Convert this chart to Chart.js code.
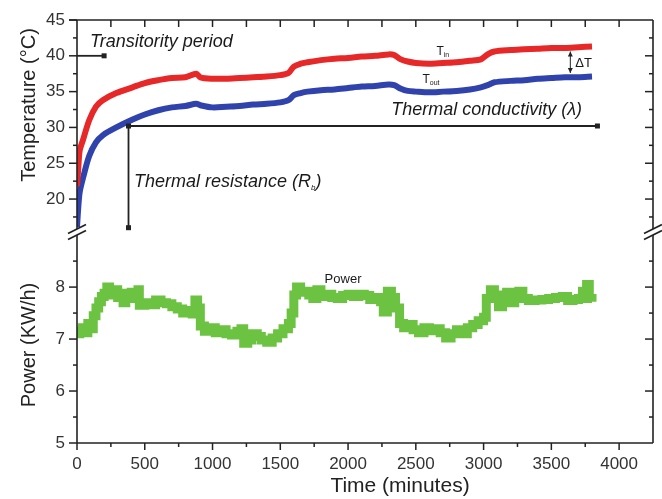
<!DOCTYPE html>
<html>
<head>
<meta charset="utf-8">
<script src="https://cdn.jsdelivr.net/npm/chart.js@4.4.1/dist/chart.umd.min.js"></script>
<style>
  html, body { margin: 0; padding: 0; background: #fff; }
  #wrap { width: 662px; height: 499px; }
</style>
</head>
<body>
<div id="wrap"><canvas id="chart" width="662" height="499"></canvas></div>
<script>
// temperature curves (minutes, °C)
const timeT = [0, 10, 20, 45, 90, 140, 190, 290, 410, 500, 600, 700, 800, 880, 910, 1000,
  1100, 1200, 1300, 1400, 1500, 1560, 1600, 1650, 1700, 1800, 1900, 2000, 2100, 2200,
  2300, 2340, 2390, 2440, 2500, 2600, 2700, 2800, 2900, 2980, 3030, 3080, 3200, 3300,
  3400, 3500, 3600, 3700, 3800];
const tempIn = [21.8, 24.5, 26.8, 28.3, 31.0, 32.9, 33.8, 34.8, 35.6, 36.2, 36.6, 36.9, 37.0, 37.5, 37.0, 36.8,
  36.8, 36.9, 37.0, 37.1, 37.3, 37.6, 38.5, 38.9, 39.1, 39.4, 39.6, 39.7, 39.9, 40.0,
  40.2, 40.1, 39.5, 39.2, 39.0, 38.9, 39.0, 39.1, 39.3, 39.5, 40.2, 40.6, 40.8, 40.9,
  41.0, 41.1, 41.1, 41.2, 41.3];
const tempOut = [16.1, 19.0, 21.0, 23.0, 26.0, 27.9, 28.9, 30.0, 31.1, 31.8, 32.4, 32.8, 33.0, 33.3, 33.1, 32.8,
  32.9, 33.0, 33.2, 33.3, 33.5, 33.8, 34.5, 34.8, 35.0, 35.2, 35.3, 35.5, 35.7, 35.8,
  36.0, 35.9, 35.4, 35.1, 35.0, 34.9, 35.0, 35.1, 35.3, 35.6, 35.9, 36.3, 36.5, 36.6,
  36.8, 36.9, 37.0, 37.0, 37.1];

// power (minutes, KW/h)
const timeP = [0, 20, 40, 60, 80, 100, 120, 140, 160, 180, 200, 220, 240, 260, 280, 300, 320, 340, 360, 380,
  400, 420, 450, 460, 500, 540, 580, 620, 660, 700, 740, 780, 820, 850, 870, 890, 910, 940, 980,
  1020, 1060, 1100, 1140, 1180, 1210, 1230, 1260, 1290, 1330, 1360, 1400, 1440, 1480, 1520, 1560,
  1580, 1600, 1620, 1650, 1680, 1710, 1740, 1770, 1800, 1840, 1880, 1920, 1960, 2000, 2040, 2080,
  2120, 2160, 2200, 2240, 2260, 2290, 2320, 2350, 2380, 2410, 2440, 2480, 2520, 2560, 2600, 2640,
  2680, 2720, 2760, 2800, 2840, 2880, 2920, 2960, 3000, 3020, 3050, 3080, 3110, 3140, 3170, 3200,
  3230, 3260, 3290, 3330, 3380, 3430, 3480, 3530, 3580, 3620, 3660, 3700, 3730, 3760, 3780, 3800];
const power = [7.10, 7.15, 7.22, 7.12, 7.30, 7.20, 7.45, 7.60, 7.72, 7.82, 7.88, 8.00, 7.92, 7.85, 7.95, 7.80, 7.88, 7.70, 7.85, 7.78,
  7.90, 7.85, 7.95, 7.65, 7.70, 7.66, 7.75, 7.70, 7.68, 7.62, 7.58, 7.50, 7.55, 7.48, 7.75, 7.60, 7.25, 7.15, 7.22,
  7.12, 7.18, 7.10, 7.08, 7.15, 7.20, 6.92, 6.98, 7.10, 7.05, 6.98, 6.94, 7.02, 7.10, 7.20, 7.30,
  7.50, 7.85, 8.00, 7.90, 7.92, 7.85, 7.78, 7.95, 7.82, 7.86, 7.80, 7.78, 7.84, 7.86, 7.82, 7.86,
  7.84, 7.76, 7.80, 7.72, 7.52, 7.92, 7.80, 7.60, 7.30, 7.22, 7.28, 7.18, 7.12, 7.22, 7.16, 7.20,
  7.12, 7.02, 7.10, 7.18, 7.10, 7.22, 7.28, 7.35, 7.42, 7.78, 7.95, 7.85, 7.62, 7.82, 7.90, 7.70,
  7.86, 7.92, 7.78, 7.74, 7.75, 7.76, 7.78, 7.80, 7.82, 7.74, 7.76, 7.78, 7.92, 8.05, 7.78, 7.72];

// axis ticks
const timeTicks = [0, 500, 1000, 1500, 2000, 2500, 3000, 3500, 4000];
const timeMinor = [250, 750, 1250, 1750, 2250, 2750, 3250, 3750];
const tempTicks = [20, 25, 30, 35, 40, 45];
const tempMinor = [17.5, 22.5, 27.5, 32.5, 37.5, 42.5];
const powerTicks = [5, 6, 7, 8];
const powerMinor = [5.5, 6.5, 7.5, 8.5];

const FONT = "'Liberation Sans', Arial, sans-serif";
const INK = '#222';

function pts(xs, ys) {
  return xs.map((x, i) => ({ x: x, y: ys[i] }));
}

function seg(ctx, x1, y1, x2, y2) {
  ctx.beginPath();
  ctx.moveTo(x1, y1);
  ctx.lineTo(x2, y2);
  ctx.stroke();
}

function dot(ctx, x, y) {
  ctx.fillRect(x - 2.5, y - 2.5, 5, 5);
}

// draws text pieces one after another, for subscripts
function pieces(ctx, list, x, y) {
  let cx = x;
  list.forEach(p => {
    ctx.font = p[1];
    ctx.fillText(p[0], cx, y + (p[2] || 0));
    cx += ctx.measureText(p[0]).width;
  });
}

const frame = {
  id: 'frame',
  afterDraw(chart) {
    const ctx = chart.ctx;
    const a = chart.chartArea;
    const sx = chart.scales.x, sT = chart.scales.yT, sP = chart.scales.yP;
    const brk = sT.bottom;
    const X = v => sx.getPixelForValue(v);
    const T = v => sT.getPixelForValue(v);
    const P = v => sP.getPixelForValue(v);

    ctx.save();
    ctx.strokeStyle = INK;
    ctx.fillStyle = INK;
    ctx.lineWidth = 1.6;

    // frame with the broken left and right axes
    seg(ctx, a.left - 8, a.top, a.right, a.top);
    seg(ctx, a.left, a.bottom, a.right, a.bottom);
    [a.left, a.right].forEach(ax => {
      seg(ctx, ax, a.top, ax, brk - 3);
      seg(ctx, ax, brk + 3, ax, a.bottom);
      seg(ctx, ax - 9, brk - 3 + 4.5, ax + 9, brk - 3 - 4.5);
      seg(ctx, ax - 9, brk + 3 + 4.5, ax + 9, brk + 3 - 4.5);
    });

    ctx.lineWidth = 1.5;
    // major ticks, outward on left and bottom
    tempTicks.forEach(v => seg(ctx, a.left - 8, T(v), a.left, T(v)));
    powerTicks.forEach(v => seg(ctx, a.left - 8, P(v), a.left, P(v)));
    timeTicks.forEach(v => seg(ctx, X(v), a.bottom, X(v), a.bottom + 7));
    // minor ticks, outward on left and bottom
    tempMinor.forEach(v => seg(ctx, a.left - 4, T(v), a.left, T(v)));
    powerMinor.forEach(v => seg(ctx, a.left - 4, P(v), a.left, P(v)));
    timeMinor.forEach(v => seg(ctx, X(v), a.bottom, X(v), a.bottom + 4));
    // inward ticks on top and right
    timeTicks.concat(timeMinor).forEach(v => { if (v > 0) seg(ctx, X(v), a.top, X(v), a.top + 7); });
    tempTicks.forEach(v => { if (v < 45) seg(ctx, a.right - 8, T(v), a.right, T(v)); });
    tempMinor.forEach(v => seg(ctx, a.right - 4, T(v), a.right, T(v)));
    powerTicks.forEach(v => { if (v > 5) seg(ctx, a.right - 8, P(v), a.right, P(v)); });
    powerMinor.forEach(v => seg(ctx, a.right - 4, P(v), a.right, P(v)));

    // annotation lines
    ctx.lineWidth = 1.8;
    seg(ctx, X(0), T(40), X(200), T(40));
    dot(ctx, X(200), T(40));
    seg(ctx, X(380), T(30.2), X(3840), T(30.2));
    seg(ctx, X(380), T(30.2), X(380), T(16));
    dot(ctx, X(380), T(30.2));
    dot(ctx, X(3840), T(30.2));
    dot(ctx, X(380), T(16));

    // delta T arrow
    ctx.lineWidth = 1;
    const ax = X(3640), y1 = T(40.6), y2 = T(37.6);
    seg(ctx, ax, y1, ax, y2);
    ctx.beginPath();
    ctx.moveTo(ax, y1); ctx.lineTo(ax - 2.5, y1 + 5); ctx.lineTo(ax + 2.5, y1 + 5); ctx.closePath();
    ctx.moveTo(ax, y2); ctx.lineTo(ax - 2.5, y2 - 5); ctx.lineTo(ax + 2.5, y2 - 5); ctx.closePath();
    ctx.fill();

    // annotation text
    ctx.textBaseline = 'alphabetic';
    ctx.textAlign = 'left';
    ctx.fillStyle = '#1a1a1a';
    ctx.font = 'italic 18px ' + FONT;
    ctx.fillText('Transitority period', X(96), T(41.23));
    pieces(ctx, [['Thermal resistance (R', 'italic 18px ' + FONT], ['b', 'italic 8px ' + FONT, 3], [')', 'italic 18px ' + FONT]], X(420), T(21.68));
    ctx.textAlign = 'right';
    ctx.font = 'italic 18px ' + FONT;
    ctx.fillText('Thermal conductivity (\u03bb)', X(3727), T(31.73));
    ctx.textAlign = 'left';
    pieces(ctx, [['T', '12px ' + FONT], ['in', '7px ' + FONT, 2]], X(2652), T(40.1));
    pieces(ctx, [['T', '12px ' + FONT], ['out', '7px ' + FONT, 2]], X(2549), T(36.2));
    ctx.font = '13px ' + FONT;
    ctx.fillText('\u0394T', X(3676), T(38.44));
    ctx.font = '13px ' + FONT;
    ctx.fillText('Power', X(1827), P(8.08));

    // axis titles
    ctx.fillStyle = INK;
    ctx.textAlign = 'center';
    ctx.textBaseline = 'middle';
    ctx.font = '20px ' + FONT;
    ctx.save();
    ctx.translate(29, 105);
    ctx.rotate(-Math.PI / 2);
    ctx.fillText('Temperature (\u00b0C)', 0, 0);
    ctx.restore();
    ctx.save();
    ctx.translate(29, 345);
    ctx.rotate(-Math.PI / 2);
    ctx.fillText('Power (KW/h)', 0, 0);
    ctx.restore();
    ctx.font = '21px ' + FONT;
    ctx.fillText('Time (minutes)', 400, 486);
    ctx.restore();
  }
};

function yAxis(min, max, ticks, weight) {
  return {
    type: 'linear',
    position: 'left',
    stack: 'left',
    stackWeight: weight,
    min: min,
    max: max,
    afterBuildTicks: s => { s.ticks = ticks.map(v => ({ value: v })); },
    afterFit: s => { s.width = 77; },
    border: { display: false },
    grid: { drawOnChartArea: false, drawTicks: true, tickLength: 8, tickColor: 'rgba(0,0,0,0)' },
    ticks: { color: '#333', padding: 4, font: { family: FONT, size: 17 }, callback: v => String(v) }
  };
}

new Chart(document.getElementById('chart'), {
  type: 'line',
  data: {
    datasets: [
      { label: 'Tin', data: pts(timeT, tempIn), yAxisID: 'yT', borderColor: '#e62828',
        borderWidth: 6, pointRadius: 0, tension: 0.3 },
      { label: 'Tout', data: pts(timeT, tempOut), yAxisID: 'yT', borderColor: '#3043ad',
        borderWidth: 6, pointRadius: 0, tension: 0.3 },
      { label: 'Power', data: pts(timeP, power), yAxisID: 'yP', borderColor: '#6cc241',
        borderWidth: 9, pointRadius: 0, stepped: true }
    ]
  },
  options: {
    responsive: false,
    animation: false,
    events: [],
    layout: { padding: { top: 20, right: 9, left: 0, bottom: 0 } },
    plugins: { legend: { display: false }, tooltip: { enabled: false } },
    scales: {
      x: {
        type: 'linear',
        position: 'bottom',
        min: 0,
        max: 4250,
        afterBuildTicks: s => { s.ticks = timeTicks.map(v => ({ value: v })); },
        afterFit: s => { s.height = 56; },
        border: { display: false },
        grid: { drawOnChartArea: false, drawTicks: true, tickLength: 7, tickColor: 'rgba(0,0,0,0)' },
        ticks: { color: '#333', padding: 4, maxRotation: 0, font: { family: FONT, size: 17 }, callback: v => String(v) }
      },
      yP: yAxis(5, 9.06, powerTicks, 211),
      yT: yAxis(15.4, 45, tempTicks, 212)
    }
  },
  plugins: [frame]
});
</script>
</body>
</html>
